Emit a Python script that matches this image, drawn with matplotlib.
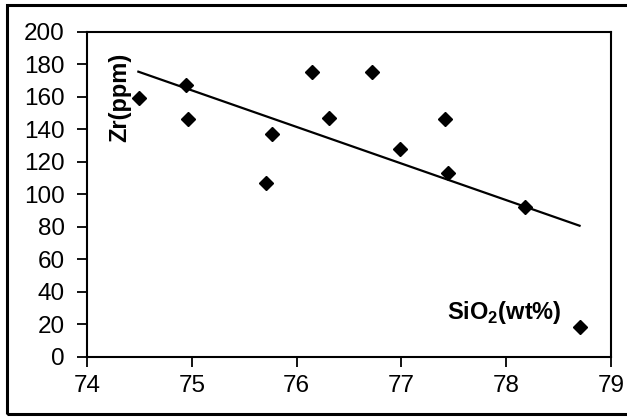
import matplotlib
matplotlib.use("Agg")
import matplotlib.pyplot as plt
from matplotlib.patches import Rectangle

plt.rcParams["font.family"] = ["Liberation Sans", "DejaVu Sans"]
plt.rcParams["mathtext.fontset"] = "custom"
plt.rcParams["mathtext.rm"] = "Liberation Sans:bold"
plt.rcParams["mathtext.bf"] = "Liberation Sans:bold"

# SiO2 (wt%) vs Zr (ppm)
sio2 = [74.50, 74.94, 74.96, 75.71, 75.77, 76.15, 76.31, 76.72, 76.99, 77.42, 77.44, 78.18, 78.70]
zr = [159, 167, 146, 107, 137, 175, 147, 175, 128, 146, 113, 92, 18]

# trend line end points
trend_x = [74.49, 78.70]
trend_y = [175.4, 80.6]

x_ticks = [74, 75, 76, 77, 78, 79]
y_ticks = list(range(0, 201, 20))

fig = plt.figure(figsize=(6.27, 4.18), dpi=100)
ax = fig.add_axes([87 / 627, (418 - 356.7) / 418, (611 - 87) / 627, (356.7 - 31.7) / 418])

ax.plot(trend_x, trend_y, color="black", lw=1.6, zorder=2)
ax.plot(sio2, zr, linestyle="none", marker="D", ms=7.5, color="black", zorder=3)

ax.set_xlim(74, 79)
ax.set_ylim(0, 200)
ax.set_xticks(x_ticks)
ax.set_yticks(y_ticks)
ax.tick_params(direction="out", length=7, width=1.3, labelsize=17.5)
ax.tick_params(axis="x", pad=6)
ax.tick_params(axis="y", pad=9)
for s in ax.spines.values():
    s.set_linewidth(1.5)

ax.text(120, 418 - 97, "Zr(ppm)", transform=None, rotation=90, ha="center", va="center",
        fontsize=17, fontweight="bold")
ax.text(504, 418 - 312, r"SiO$_2$(wt%)", transform=None, ha="center", va="center",
        fontsize=17, fontweight="bold")

# outer frame
fig.patches.append(Rectangle((7 / 627, 4 / 418), 1.0, 409 / 418,
                             transform=fig.transFigure, fill=False, lw=2.2,
                             edgecolor="black"))

fig.savefig("out.png", dpi=100)
